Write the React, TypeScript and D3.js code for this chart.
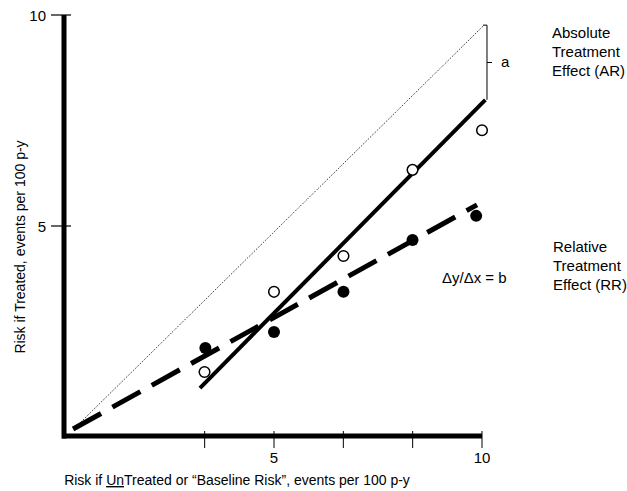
import * as d3 from "d3";
import React from "react";

// values (events per 100 p-y)
const tickValues = [10 / 3, 5, 20 / 3, 25 / 3, 10];
const tickLabels = ["", "5", "", "", "10"];
const yTickValues = [5, 10];

const openX = [3.33, 5, 6.67, 8.33, 10];
const openY = [1.54, 3.44, 4.29, 6.33, 7.27];
const filledX = [3.35, 5, 6.67, 8.33, 9.86];
const filledY = [2.11, 2.49, 3.44, 4.67, 5.24];

const identityLine: [number, number][] = [[0.2, 0.2], [10.05, 9.76]];
const absoluteLine: [number, number][] = [[3.22, 1.16], [10.08, 7.99]];
const relativeLine: [number, number][] = [[0.17, 0.19], [9.88, 5.5]];

const W = 627;
const H = 491;
const font = "'Liberation Sans', Arial, sans-serif";

function App() {
  const x = d3.scaleLinear().domain([0, 10]).range([66, 482]);
  const y = d3.scaleLinear().domain([0, 10]).range([437, 15]);
  const line = d3
    .line<[number, number]>()
    .x((d) => x(d[0]))
    .y((d) => y(d[1]));

  const bx = x(10.12);
  const bTop = y(identityLine[1][1]);
  const bBot = y(absoluteLine[1][1]);

  return (
    <svg
      width={W}
      height={H}
      style={{ position: "absolute", left: 0, top: 0, background: "#fff" }}
      fontFamily={font}
    >
      {/* reference lines */}
      <path d={line(identityLine)!} fill="none" stroke="#000" strokeWidth={1} strokeDasharray="1,1.5" />
      <path d={line(absoluteLine)!} fill="none" stroke="#000" strokeWidth={4} />
      <path d={line(relativeLine)!} fill="none" stroke="#000" strokeWidth={5} strokeDasharray="32,13" />

      {/* bracket for a */}
      <path
        d={`M${bx - 4},${bTop}H${bx}V${bBot}M${bx},${(bTop + bBot) / 2}h5`}
        fill="none"
        stroke="#000"
        strokeWidth={1}
      />
      <text x={bx + 14} y={(bTop + bBot) / 2 + 5} fontSize={15}>a</text>

      {/* points */}
      {openX.map((v, i) => (
        <circle key={"o" + i} cx={x(v)} cy={y(openY[i])} r={5.3} fill="#fff" stroke="#000" strokeWidth={1.5} />
      ))}
      {filledX.map((v, i) => (
        <circle key={"f" + i} cx={x(v)} cy={y(filledY[i])} r={6} fill="#000" />
      ))}

      {/* axes */}
      <line x1={64} x2={64} y1={y(10)} y2={y(0) + 1.5} stroke="#000" strokeWidth={5} />
      <line x1={62} x2={x(10)} y1={y(0) - 1} y2={y(0) - 1} stroke="#000" strokeWidth={5} />
      {tickValues.map((t, i) => (
        <g key={"xt" + i}>
          <line x1={x(t)} x2={x(t)} y1={y(0) - 6} y2={y(0) + 11} stroke="#000" strokeWidth={1} />
          <text x={x(t)} y={463} fontSize={15} textAnchor="middle">{tickLabels[i]}</text>
        </g>
      ))}
      {yTickValues.map((t) => (
        <g key={"yt" + t}>
          <line x1={51} x2={71} y1={y(t)} y2={y(t)} stroke="#000" strokeWidth={1.2} />
          <text x={46} y={y(t) + 5.5} fontSize={15} textAnchor="end">{t}</text>
        </g>
      ))}

      {/* axis titles */}
      <text x={237} y={485} fontSize={14} textAnchor="middle">
        Risk if <tspan textDecoration="underline">Un</tspan>Treated or “Baseline Risk”, events per 100 p-y
      </text>
      <text transform="translate(25,247) rotate(-90)" fontSize={14} textAnchor="middle">
        Risk if Treated, events per 100 p-y
      </text>

      {/* annotations */}
      <text x={552} fontSize={15}>
        <tspan x={552} y={38}>Absolute</tspan>
        <tspan x={552} y={57}>Treatment</tspan>
        <tspan x={552} y={76}>Effect (AR)</tspan>
      </text>
      <text x={442} y={283} fontSize={15}>Δy/Δx = b</text>
      <text x={553} fontSize={15}>
        <tspan x={553} y={252}>Relative</tspan>
        <tspan x={553} y={271}>Treatment</tspan>
        <tspan x={553} y={290}>Effect (RR)</tspan>
      </text>
    </svg>
  );
}

export default App;
